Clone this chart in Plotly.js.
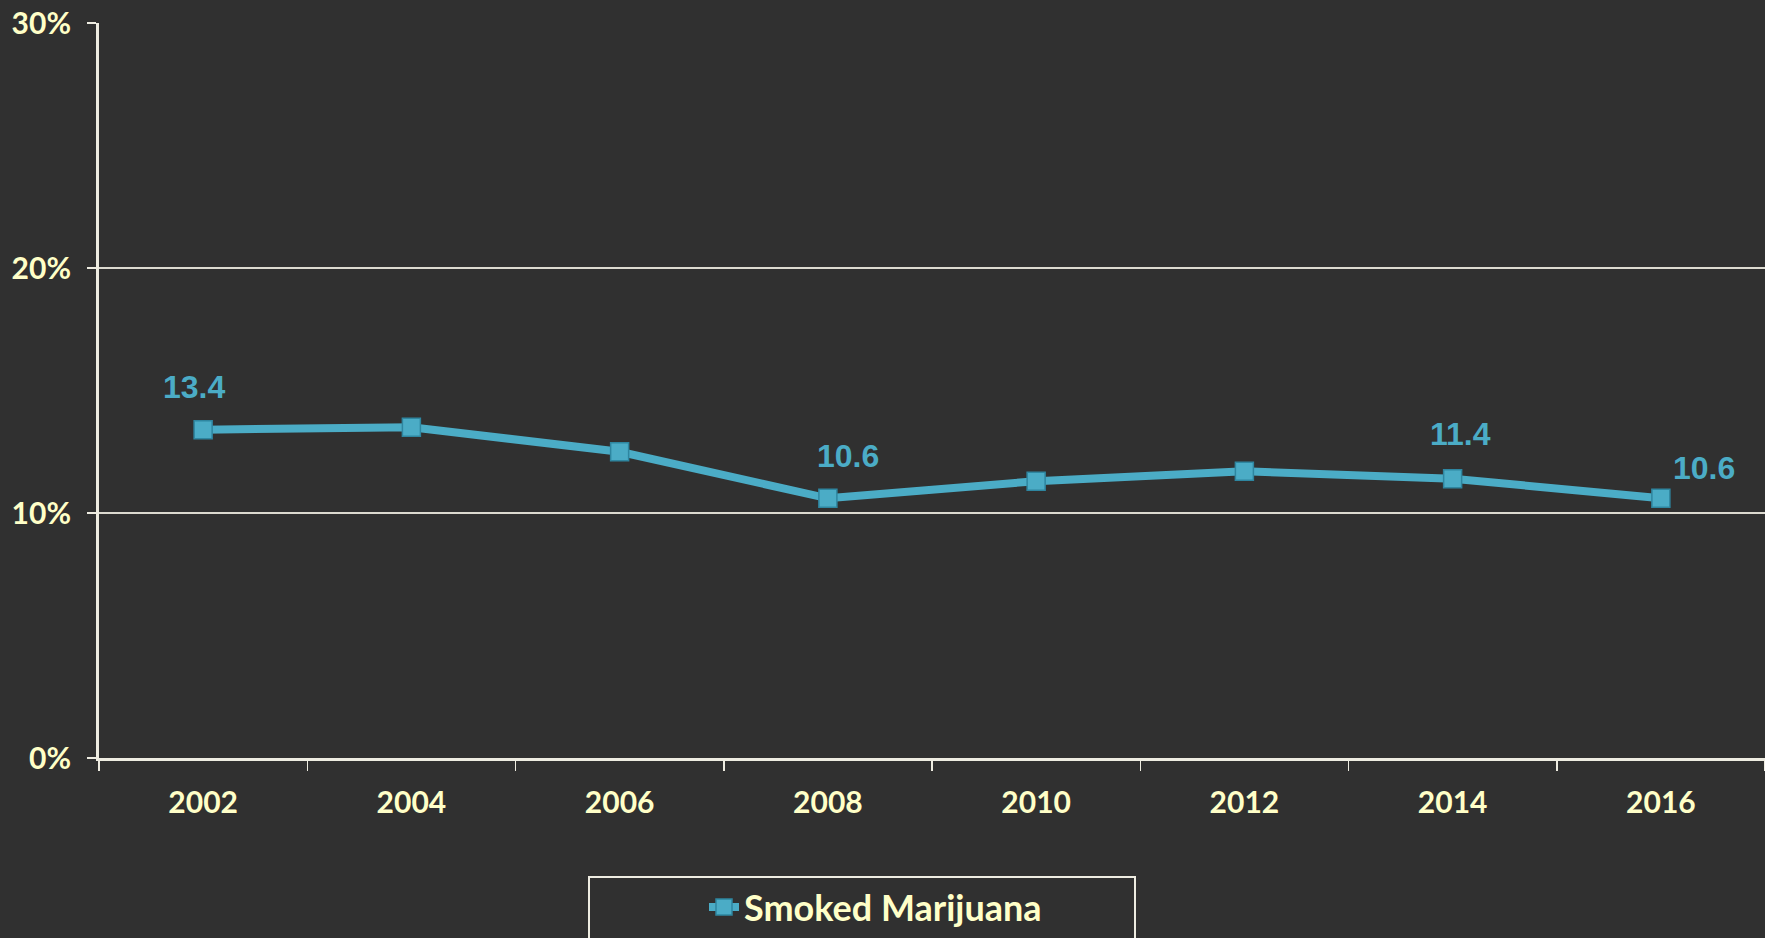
<!DOCTYPE html>
<html>
<head>
<meta charset="utf-8">
<script src="https://cdn.plot.ly/plotly-3.0.1.min.js"></script>
<style>
  html, body { margin: 0; padding: 0; background: #303030; }
  #chart { width: 1765px; height: 938px; }
</style>
</head>
<body>
<div id="chart"></div>
<script>
// Data
const years = ['2002', '2004', '2006', '2008', '2010', '2012', '2014', '2016'];
const smokedMarijuana = [13.4, 13.5, 12.5, 10.6, 11.3, 11.7, 11.4, 10.6];
const labelledYears = ['2002', '2008', '2014', '2016'];
const seriesName = 'Smoked Marijuana';
const yTicks = [0, 10, 20, 30];
const yTickText = yTicks.map(function (v) { return v + '%'; });

// Styles
const bg = '#303030';
const axisText = '#FFFFC8';
const lineCol = '#EEECE1';
const seriesCol = '#4BACC6';
const tickFont = { family: 'Lato, "Open Sans", sans-serif', size: 30, color: axisText, weight: 'bold' };

// label offsets (px) for the data labels, keyed by year
const labelShift = {
  '2002': [-9, 43],
  '2008': [20, 42],
  '2014': [8, 45],
  '2016': [43, 30]
};

const annotations = labelledYears.map(function (yr) {
  const i = years.indexOf(yr);
  return {
    x: i, y: smokedMarijuana[i], xref: 'x', yref: 'y',
    text: '<b>' + smokedMarijuana[i].toFixed(1) + '</b>',
    showarrow: false,
    xanchor: 'center', yanchor: 'middle',
    xshift: labelShift[yr][0], yshift: labelShift[yr][1],
    font: { family: '"Liberation Sans", Arial, sans-serif', size: 32, color: seriesCol }
  };
});

const trace = {
  type: 'scatter', mode: 'lines+markers',
  x: years, y: smokedMarijuana, name: seriesName,
  line: { color: seriesCol, width: 8 },
  marker: { symbol: 'square', size: 18, color: seriesCol, line: { color: '#2E86A0', width: 1.5 } },
  hoverinfo: 'x+y'
};

const layout = {
  width: 1765, height: 938,
  paper_bgcolor: bg, plot_bgcolor: bg,
  margin: { l: 99, r: 0, t: 23, b: 180 },
  showlegend: true,
  legend: {
    x: (704 - 99) / 1666, xanchor: 'left', y: -0.203, yanchor: 'middle',
    bgcolor: 'rgba(0,0,0,0)', borderwidth: 0,
    font: { family: 'Lato, "Open Sans", sans-serif', size: 36, color: axisText, weight: 'bold' }
  },
  xaxis: {
    type: 'category', range: [-0.5, 7.5],
    showline: true, linecolor: lineCol, linewidth: 3,
    ticks: 'outside', tickson: 'boundaries', ticklen: 10, tickwidth: 1.5, tickcolor: lineCol,
    showgrid: false, zeroline: false,
    tickfont: tickFont, ticklabelstandoff: 16
  },
  yaxis: {
    range: [0, 30], tickmode: 'array', tickvals: yTicks, ticktext: yTickText,
    showline: true, linecolor: lineCol, linewidth: 3,
    ticks: 'outside', ticklen: 9, tickwidth: 1.5, tickcolor: lineCol,
    showgrid: true, gridcolor: '#DCDAD0', gridwidth: 2,
    zeroline: false,
    tickfont: tickFont, ticklabelstandoff: 10
  },
  annotations: annotations,
  shapes: [{
    type: 'rect', xref: 'paper', yref: 'paper',
    x0: (589 - 99) / 1666, x1: (1135 - 99) / 1666,
    y0: -(960 - 758) / 735, y1: -(877 - 758) / 735,
    line: { color: lineCol, width: 2 }, fillcolor: 'rgba(0,0,0,0)', layer: 'above'
  }]
};

Plotly.newPlot('chart', [trace], layout, { displayModeBar: false, staticPlot: true });
</script>
</body>
</html>
